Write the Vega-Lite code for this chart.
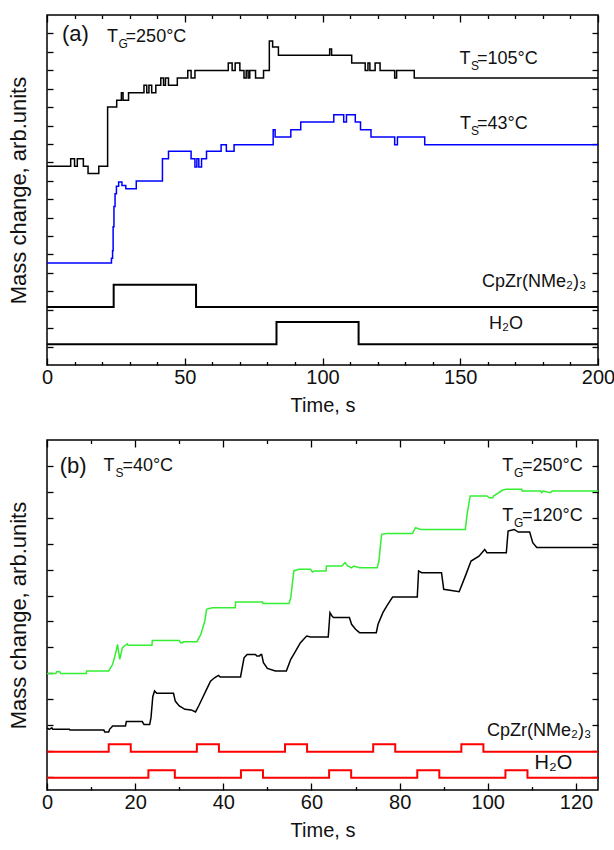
{
  "$schema": "https://vega.github.io/schema/vega-lite/v6.json",
  "padding": {"left": 6, "top": 13, "right": 0, "bottom": 5},
  "background": "white",
  "spacing": 21,
  "config": {
    "view": {"stroke": "black", "strokeWidth": 1.5},
    "font": "Liberation Sans",
    "axis": {"domain": false, "grid": false, "tickColor": "black", "tickWidth": 1.3, "labelFont": "Liberation Sans", "labelFontSize": 20, "labelColor": "#111", "titleFont": "Liberation Sans", "titleFontSize": 20, "titleFontWeight": "normal", "titleColor": "#111", "labelFlush": false, "labelOverlap": false},
    "text": {"font": "Liberation Sans", "color": "#111"}
  },
  "datasets": {
    "a_curves": [
      {"series": "Ts105", "t": 0, "v": 10.79}, {"series": "Ts105", "t": 8.6, "v": 11.2}, {"series": "Ts105", "t": 10.0, "v": 10.79}, {"series": "Ts105", "t": 11.0, "v": 11.2}, {"series": "Ts105", "t": 13.2, "v": 10.79}, {"series": "Ts105", "t": 14.9, "v": 10.39}, {"series": "Ts105", "t": 18.8, "v": 10.79}, {"series": "Ts105", "t": 22.0, "v": 14.01}, {"series": "Ts105", "t": 25.3, "v": 14.37}, {"series": "Ts105", "t": 27.0, "v": 14.78}, {"series": "Ts105", "t": 27.6, "v": 14.37}, {"series": "Ts105", "t": 29.6, "v": 14.78}, {"series": "Ts105", "t": 35.2, "v": 15.18}, {"series": "Ts105", "t": 36.2, "v": 14.78}, {"series": "Ts105", "t": 37.0, "v": 15.18}, {"series": "Ts105", "t": 38.0, "v": 14.78}, {"series": "Ts105", "t": 39.5, "v": 15.18}, {"series": "Ts105", "t": 41.3, "v": 15.58}, {"series": "Ts105", "t": 42.3, "v": 15.18}, {"series": "Ts105", "t": 43.0, "v": 15.58}, {"series": "Ts105", "t": 44.1, "v": 15.18}, {"series": "Ts105", "t": 47.3, "v": 15.58}, {"series": "Ts105", "t": 51.1, "v": 15.99}, {"series": "Ts105", "t": 52.3, "v": 15.58}, {"series": "Ts105", "t": 53.7, "v": 15.99}, {"series": "Ts105", "t": 65.8, "v": 16.4}, {"series": "Ts105", "t": 67.2, "v": 15.99}, {"series": "Ts105", "t": 68.3, "v": 16.4}, {"series": "Ts105", "t": 70.0, "v": 15.99}, {"series": "Ts105", "t": 71.5, "v": 15.58}, {"series": "Ts105", "t": 72.3, "v": 15.99}, {"series": "Ts105", "t": 73.0, "v": 15.58}, {"series": "Ts105", "t": 73.6, "v": 15.99}, {"series": "Ts105", "t": 75.7, "v": 15.58}, {"series": "Ts105", "t": 78.6, "v": 15.99}, {"series": "Ts105", "t": 80.7, "v": 17.59}, {"series": "Ts105", "t": 81.9, "v": 17.26}, {"series": "Ts105", "t": 84.0, "v": 16.81}, {"series": "Ts105", "t": 102.6, "v": 17.15}, {"series": "Ts105", "t": 103.3, "v": 16.81}, {"series": "Ts105", "t": 110.6, "v": 16.4}, {"series": "Ts105", "t": 115.5, "v": 15.99}, {"series": "Ts105", "t": 116.5, "v": 16.4}, {"series": "Ts105", "t": 117.2, "v": 15.99}, {"series": "Ts105", "t": 119.1, "v": 16.4}, {"series": "Ts105", "t": 120.9, "v": 15.99}, {"series": "Ts105", "t": 126.2, "v": 15.58}, {"series": "Ts105", "t": 126.9, "v": 15.99}, {"series": "Ts105", "t": 133.3, "v": 15.58}, {"series": "Ts105", "t": 200, "v": 15.58},
      {"series": "Ts43", "t": 0, "v": 5.54}, {"series": "Ts43", "t": 23.4, "v": 5.8}, {"series": "Ts43", "t": 23.8, "v": 6.2}, {"series": "Ts43", "t": 24.0, "v": 7.5}, {"series": "Ts43", "t": 24.3, "v": 8.6}, {"series": "Ts43", "t": 24.7, "v": 9.3}, {"series": "Ts43", "t": 25.2, "v": 9.7}, {"series": "Ts43", "t": 26.0, "v": 9.93}, {"series": "Ts43", "t": 27.2, "v": 9.75}, {"series": "Ts43", "t": 28.6, "v": 9.57}, {"series": "Ts43", "t": 32.4, "v": 9.99}, {"series": "Ts43", "t": 41.9, "v": 11.2}, {"series": "Ts43", "t": 44.1, "v": 11.6}, {"series": "Ts43", "t": 52.3, "v": 11.2}, {"series": "Ts43", "t": 53.7, "v": 10.75}, {"series": "Ts43", "t": 54.4, "v": 11.2}, {"series": "Ts43", "t": 55.1, "v": 10.75}, {"series": "Ts43", "t": 56.1, "v": 11.2}, {"series": "Ts43", "t": 57.9, "v": 11.6}, {"series": "Ts43", "t": 63.2, "v": 11.96}, {"series": "Ts43", "t": 65.1, "v": 11.6}, {"series": "Ts43", "t": 67.9, "v": 11.96}, {"series": "Ts43", "t": 82.1, "v": 12.77}, {"series": "Ts43", "t": 82.8, "v": 12.38}, {"series": "Ts43", "t": 88.5, "v": 12.77}, {"series": "Ts43", "t": 92.1, "v": 13.19}, {"series": "Ts43", "t": 104.1, "v": 13.59}, {"series": "Ts43", "t": 107.7, "v": 13.19}, {"series": "Ts43", "t": 108.7, "v": 13.59}, {"series": "Ts43", "t": 111.9, "v": 13.19}, {"series": "Ts43", "t": 113.8, "v": 12.77}, {"series": "Ts43", "t": 117.6, "v": 12.38}, {"series": "Ts43", "t": 126.2, "v": 11.96}, {"series": "Ts43", "t": 127.2, "v": 12.38}, {"series": "Ts43", "t": 137.1, "v": 11.96}, {"series": "Ts43", "t": 200, "v": 11.96}
    ],
    "a_pulses": [
      {"series": "CpZr", "t": 0, "v": 3.15}, {"series": "CpZr", "t": 24.2, "v": 4.36}, {"series": "CpZr", "t": 54.1, "v": 3.15}, {"series": "CpZr", "t": 200, "v": 3.15},
      {"series": "H2O", "t": 0, "v": 1.12}, {"series": "H2O", "t": 83.3, "v": 2.33}, {"series": "H2O", "t": 113.1, "v": 1.12}, {"series": "H2O", "t": 200, "v": 1.12}
    ],
    "a_text": [
      {"t": 5.44, "v": 17.97, "text": "(a)", "role": "big"},
      {"t": 21.78, "v": 17.81, "text": "T", "role": "main"}, {"t": 25.95, "v": 17.81, "text": "G", "role": "sub"}, {"t": 28.53, "v": 17.81, "text": "=250°C", "role": "main"},
      {"t": 149.7, "v": 16.61, "text": "T", "role": "main"}, {"t": 153.9, "v": 16.61, "text": "S", "role": "sub"}, {"t": 156.1, "v": 16.61, "text": "=105°C", "role": "main"},
      {"t": 149.9, "v": 13.08, "text": "T", "role": "main"}, {"t": 153.9, "v": 13.08, "text": "S", "role": "sub"}, {"t": 156.1, "v": 13.08, "text": "=43°C", "role": "main"},
      {"t": 157.9, "v": 4.51, "text": "CpZr(NMe₂)₃", "role": "main"},
      {"t": 160.4, "v": 2.23, "text": "H₂O", "role": "main"}
    ],
    "b_curves": [
      {"series": "Tg250", "t": 0, "v": 4.49}, {"series": "Tg250", "t": 2.0, "v": 4.49}, {"series": "Tg250", "t": 2.2, "v": 4.56}, {"series": "Tg250", "t": 2.9, "v": 4.56}, {"series": "Tg250", "t": 3.1, "v": 4.49}, {"series": "Tg250", "t": 8.9, "v": 4.49}, {"series": "Tg250", "t": 9.0, "v": 4.59}, {"series": "Tg250", "t": 14.0, "v": 4.59}, {"series": "Tg250", "t": 14.9, "v": 4.85}, {"series": "Tg250", "t": 15.6, "v": 5.3}, {"series": "Tg250", "t": 16.0, "v": 5.62}, {"series": "Tg250", "t": 16.5, "v": 5.04}, {"series": "Tg250", "t": 17.1, "v": 5.49}, {"series": "Tg250", "t": 18.2, "v": 5.64}, {"series": "Tg250", "t": 18.4, "v": 5.58}, {"series": "Tg250", "t": 23.8, "v": 5.58}, {"series": "Tg250", "t": 23.9, "v": 5.77}, {"series": "Tg250", "t": 30.0, "v": 5.77}, {"series": "Tg250", "t": 30.3, "v": 5.68}, {"series": "Tg250", "t": 30.8, "v": 5.68}, {"series": "Tg250", "t": 30.9, "v": 5.72}, {"series": "Tg250", "t": 34.0, "v": 5.72}, {"series": "Tg250", "t": 34.9, "v": 6.0}, {"series": "Tg250", "t": 35.8, "v": 6.52}, {"series": "Tg250", "t": 36.2, "v": 6.97}, {"series": "Tg250", "t": 37.5, "v": 7.03}, {"series": "Tg250", "t": 42.7, "v": 7.03}, {"series": "Tg250", "t": 42.8, "v": 7.25}, {"series": "Tg250", "t": 48.9, "v": 7.25}, {"series": "Tg250", "t": 49.0, "v": 7.19}, {"series": "Tg250", "t": 54.9, "v": 7.19}, {"series": "Tg250", "t": 55.3, "v": 7.42}, {"series": "Tg250", "t": 56.0, "v": 8.45}, {"series": "Tg250", "t": 57.1, "v": 8.51}, {"series": "Tg250", "t": 59.8, "v": 8.51}, {"series": "Tg250", "t": 60.2, "v": 8.41}, {"series": "Tg250", "t": 60.7, "v": 8.45}, {"series": "Tg250", "t": 63.3, "v": 8.45}, {"series": "Tg250", "t": 63.4, "v": 8.64}, {"series": "Tg250", "t": 66.9, "v": 8.64}, {"series": "Tg250", "t": 67.6, "v": 8.77}, {"series": "Tg250", "t": 68.2, "v": 8.64}, {"series": "Tg250", "t": 69.1, "v": 8.57}, {"series": "Tg250", "t": 69.6, "v": 8.64}, {"series": "Tg250", "t": 70.9, "v": 8.57}, {"series": "Tg250", "t": 74.9, "v": 8.57}, {"series": "Tg250", "t": 75.3, "v": 8.83}, {"series": "Tg250", "t": 75.9, "v": 9.86}, {"series": "Tg250", "t": 77.1, "v": 9.89}, {"series": "Tg250", "t": 82.9, "v": 9.89}, {"series": "Tg250", "t": 83.6, "v": 10.12}, {"series": "Tg250", "t": 84.7, "v": 10.05}, {"series": "Tg250", "t": 94.9, "v": 10.05}, {"series": "Tg250", "t": 95.3, "v": 10.63}, {"series": "Tg250", "t": 96.0, "v": 11.34}, {"series": "Tg250", "t": 99.8, "v": 11.34}, {"series": "Tg250", "t": 100.3, "v": 11.27}, {"series": "Tg250", "t": 101.1, "v": 11.27}, {"series": "Tg250", "t": 101.3, "v": 11.34}, {"series": "Tg250", "t": 103.3, "v": 11.56}, {"series": "Tg250", "t": 104.2, "v": 11.6}, {"series": "Tg250", "t": 107.7, "v": 11.6}, {"series": "Tg250", "t": 107.8, "v": 11.53}, {"series": "Tg250", "t": 112.0, "v": 11.53}, {"series": "Tg250", "t": 112.2, "v": 11.47}, {"series": "Tg250", "t": 112.6, "v": 11.53}, {"series": "Tg250", "t": 114.2, "v": 11.47}, {"series": "Tg250", "t": 114.6, "v": 11.53}, {"series": "Tg250", "t": 125, "v": 11.53},
      {"series": "Tg120", "t": 0, "v": 2.40}, {"series": "Tg120", "t": 0.5, "v": 2.34}, {"series": "Tg120", "t": 1.1, "v": 2.40}, {"series": "Tg120", "t": 1.3, "v": 2.34}, {"series": "Tg120", "t": 5.1, "v": 2.34}, {"series": "Tg120", "t": 5.2, "v": 2.31}, {"series": "Tg120", "t": 12.9, "v": 2.31}, {"series": "Tg120", "t": 13.1, "v": 2.24}, {"series": "Tg120", "t": 14.0, "v": 2.24}, {"series": "Tg120", "t": 14.2, "v": 2.34}, {"series": "Tg120", "t": 14.9, "v": 2.47}, {"series": "Tg120", "t": 17.8, "v": 2.47}, {"series": "Tg120", "t": 18.0, "v": 2.64}, {"series": "Tg120", "t": 21.6, "v": 2.64}, {"series": "Tg120", "t": 22.0, "v": 2.53}, {"series": "Tg120", "t": 23.3, "v": 2.53}, {"series": "Tg120", "t": 23.6, "v": 2.8}, {"series": "Tg120", "t": 24.0, "v": 3.6}, {"series": "Tg120", "t": 24.4, "v": 3.82}, {"series": "Tg120", "t": 24.9, "v": 3.73}, {"series": "Tg120", "t": 28.7, "v": 3.73}, {"series": "Tg120", "t": 29.1, "v": 3.43}, {"series": "Tg120", "t": 30.0, "v": 3.24}, {"series": "Tg120", "t": 31.3, "v": 3.11}, {"series": "Tg120", "t": 32.7, "v": 3.09}, {"series": "Tg120", "t": 33.7, "v": 3.01}, {"series": "Tg120", "t": 34.4, "v": 3.24}, {"series": "Tg120", "t": 35.3, "v": 3.56}, {"series": "Tg120", "t": 36.2, "v": 3.88}, {"series": "Tg120", "t": 37.1, "v": 4.2}, {"series": "Tg120", "t": 38.0, "v": 4.33}, {"series": "Tg120", "t": 38.9, "v": 4.42}, {"series": "Tg120", "t": 39.3, "v": 4.36}, {"series": "Tg120", "t": 43.9, "v": 4.36}, {"series": "Tg120", "t": 44.7, "v": 5.1}, {"series": "Tg120", "t": 45.4, "v": 5.23}, {"series": "Tg120", "t": 47.3, "v": 5.23}, {"series": "Tg120", "t": 47.6, "v": 5.17}, {"series": "Tg120", "t": 48.2, "v": 5.17}, {"series": "Tg120", "t": 48.5, "v": 5.23}, {"series": "Tg120", "t": 48.7, "v": 5.23}, {"series": "Tg120", "t": 49.1, "v": 4.91}, {"series": "Tg120", "t": 50.0, "v": 4.69}, {"series": "Tg120", "t": 51.8, "v": 4.59}, {"series": "Tg120", "t": 54.3, "v": 4.59}, {"series": "Tg120", "t": 55.3, "v": 5.04}, {"series": "Tg120", "t": 56.2, "v": 5.3}, {"series": "Tg120", "t": 57.5, "v": 5.68}, {"series": "Tg120", "t": 58.9, "v": 5.94}, {"series": "Tg120", "t": 59.8, "v": 5.9}, {"series": "Tg120", "t": 63.8, "v": 5.9}, {"series": "Tg120", "t": 64.2, "v": 6.84}, {"series": "Tg120", "t": 64.7, "v": 6.7}, {"series": "Tg120", "t": 65.0, "v": 6.65}, {"series": "Tg120", "t": 68.6, "v": 6.65}, {"series": "Tg120", "t": 69.1, "v": 6.39}, {"series": "Tg120", "t": 70.0, "v": 6.2}, {"series": "Tg120", "t": 70.9, "v": 6.07}, {"series": "Tg120", "t": 74.7, "v": 6.07}, {"series": "Tg120", "t": 75.1, "v": 6.39}, {"series": "Tg120", "t": 76.2, "v": 6.84}, {"series": "Tg120", "t": 77.1, "v": 7.1}, {"series": "Tg120", "t": 78.4, "v": 7.44}, {"series": "Tg120", "t": 84.0, "v": 7.44}, {"series": "Tg120", "t": 84.3, "v": 8.45}, {"series": "Tg120", "t": 85.0, "v": 8.38}, {"series": "Tg120", "t": 89.5, "v": 8.38}, {"series": "Tg120", "t": 90.0, "v": 7.74}, {"series": "Tg120", "t": 93.5, "v": 7.65}, {"series": "Tg120", "t": 94.9, "v": 8.25}, {"series": "Tg120", "t": 96.2, "v": 8.83}, {"series": "Tg120", "t": 98.0, "v": 9.02}, {"series": "Tg120", "t": 99.3, "v": 9.28}, {"series": "Tg120", "t": 99.8, "v": 9.15}, {"series": "Tg120", "t": 104.2, "v": 9.15}, {"series": "Tg120", "t": 104.6, "v": 9.99}, {"series": "Tg120", "t": 106.0, "v": 10.05}, {"series": "Tg120", "t": 106.9, "v": 9.95}, {"series": "Tg120", "t": 109.5, "v": 9.95}, {"series": "Tg120", "t": 110.2, "v": 9.54}, {"series": "Tg120", "t": 111.1, "v": 9.35}, {"series": "Tg120", "t": 125, "v": 9.35}
    ],
    "b_pulses": [
      {"series": "CpZr", "t": 0, "v": 1.48}, {"series": "CpZr", "t": 14, "v": 1.76}, {"series": "CpZr", "t": 19, "v": 1.48}, {"series": "CpZr", "t": 34, "v": 1.76}, {"series": "CpZr", "t": 39, "v": 1.48}, {"series": "CpZr", "t": 54, "v": 1.76}, {"series": "CpZr", "t": 59, "v": 1.48}, {"series": "CpZr", "t": 74, "v": 1.76}, {"series": "CpZr", "t": 79, "v": 1.48}, {"series": "CpZr", "t": 94, "v": 1.76}, {"series": "CpZr", "t": 99, "v": 1.48}, {"series": "CpZr", "t": 125, "v": 1.48},
      {"series": "H2O", "t": 0, "v": 0.47}, {"series": "H2O", "t": 23, "v": 0.76}, {"series": "H2O", "t": 29, "v": 0.47}, {"series": "H2O", "t": 44, "v": 0.76}, {"series": "H2O", "t": 49, "v": 0.47}, {"series": "H2O", "t": 64, "v": 0.76}, {"series": "H2O", "t": 69, "v": 0.47}, {"series": "H2O", "t": 84, "v": 0.76}, {"series": "H2O", "t": 89, "v": 0.47}, {"series": "H2O", "t": 104, "v": 0.76}, {"series": "H2O", "t": 109, "v": 0.47}, {"series": "H2O", "t": 125, "v": 0.47}
    ],
    "b_text": [
      {"t": 2.9, "v": 12.49, "text": "(b)", "role": "big"},
      {"t": 12.84, "v": 12.49, "text": "T", "role": "main"}, {"t": 15.52, "v": 12.49, "text": "S", "role": "sub"}, {"t": 17.1, "v": 12.49, "text": "=40°C", "role": "main"},
      {"t": 103.3, "v": 12.49, "text": "T", "role": "main"}, {"t": 105.97, "v": 12.49, "text": "G", "role": "sub"}, {"t": 107.76, "v": 12.49, "text": "=250°C", "role": "main"},
      {"t": 103.3, "v": 10.57, "text": "T", "role": "main"}, {"t": 105.97, "v": 10.57, "text": "G", "role": "sub"}, {"t": 107.76, "v": 10.57, "text": "=120°C", "role": "main"},
      {"t": 99.8, "v": 2.28, "text": "CpZr(NMe₂)₃", "role": "main"},
      {"t": 110.6, "v": 1.04, "text": "H₂O", "role": "h2o"}
    ]
  },
  "vconcat": [
    {
      "width": 551, "height": 350,
      "resolve": {"axis": {"x": "independent", "y": "independent"}},
      "layer": [
        {
          "data": {"name": "a_curves"},
          "mark": {"type": "line", "interpolate": "step-after", "strokeWidth": 1.5},
          "encoding": {
            "x": {"field": "t", "type": "quantitative", "scale": {"domain": [0, 200], "nice": false, "zero": false},
              "axis": {"orient": "bottom", "values": [0,10,20,30,40,50,60,70,80,90,100,110,120,130,140,150,160,170,180,190,200], "labelExpr": "datum.value % 50 === 0 ? datum.label : ''", "tickSize": {"condition": {"test": "datum.value % 50 === 0", "value": -7}, "value": -3.5}, "labelPadding": 9, "title": "Time, s", "titlePadding": 5}},
            "y": {"field": "v", "type": "quantitative", "scale": {"domain": [0, 19], "nice": false, "zero": false},
              "axis": {"orient": "left", "values": [1,2,3,4,5,6,7,8,9,10,11,12,13,14,15,16,17,18], "labels": false, "tickSize": -6, "title": "Mass change, arb.units", "titleFontSize": 22, "titlePadding": 16}},
            "color": {"field": "series", "type": "nominal", "scale": {"domain": ["Ts105", "Ts43", "Tg250", "Tg120"], "range": ["#000000", "#0000ff", "#33ee33", "#000000"]}, "legend": null}
          }
        },
        {
          "data": {"name": "a_pulses"},
          "mark": {"type": "line", "interpolate": "step-after", "strokeWidth": 2, "color": "#000000"},
          "encoding": {
            "x": {"field": "t", "type": "quantitative", "scale": {"domain": [0, 200], "nice": false, "zero": false},
              "axis": {"orient": "top", "values": [0,10,20,30,40,50,60,70,80,90,100,110,120,130,140,150,160,170,180,190,200], "labels": false, "tickSize": {"condition": {"test": "datum.value % 50 === 0", "value": -7}, "value": -3.5}, "title": null}},
            "y": {"field": "v", "type": "quantitative", "scale": {"domain": [0, 19], "nice": false, "zero": false},
              "axis": {"orient": "right", "values": [1,2,3,4,5,6,7,8,9,10,11,12,13,14,15,16,17,18], "labels": false, "tickSize": -6, "title": null}},
            "detail": {"field": "series", "type": "nominal"}
          }
        },
        {
          "data": {"name": "a_text"},
          "transform": [{"filter": "datum.role === 'main'"}],
          "mark": {"type": "text", "align": "left", "baseline": "middle", "fontSize": 18},
          "encoding": {
            "x": {"field": "t", "type": "quantitative", "axis": null},
            "y": {"field": "v", "type": "quantitative", "axis": null},
            "text": {"field": "text"}
          }
        },
        {
          "data": {"name": "a_text"},
          "transform": [{"filter": "datum.role === 'sub'"}],
          "mark": {"type": "text", "align": "left", "baseline": "middle", "fontSize": 12, "dy": 7},
          "encoding": {
            "x": {"field": "t", "type": "quantitative", "axis": null},
            "y": {"field": "v", "type": "quantitative", "axis": null},
            "text": {"field": "text"}
          }
        },
        {
          "data": {"name": "a_text"},
          "transform": [{"filter": "datum.role === 'big'"}],
          "mark": {"type": "text", "align": "left", "baseline": "middle", "fontSize": 22},
          "encoding": {
            "x": {"field": "t", "type": "quantitative", "axis": null},
            "y": {"field": "v", "type": "quantitative", "axis": null},
            "text": {"field": "text"}
          }
        }
      ]
    },
    {
      "width": 551, "height": 350,
      "resolve": {"axis": {"x": "independent", "y": "independent"}},
      "layer": [
        {
          "data": {"name": "b_curves"},
          "mark": {"type": "line", "interpolate": "linear", "strokeWidth": 1.5},
          "encoding": {
            "x": {"field": "t", "type": "quantitative", "scale": {"domain": [0, 125], "nice": false, "zero": false},
              "axis": {"orient": "bottom", "values": [0,10,20,30,40,50,60,70,80,90,100,110,120], "labelExpr": "datum.value % 20 === 0 ? datum.label : ''", "tickSize": {"condition": {"test": "datum.value % 20 === 0", "value": -7}, "value": -3.5}, "labelPadding": 9, "title": "Time, s", "titlePadding": 5}},
            "y": {"field": "v", "type": "quantitative", "scale": {"domain": [0, 13.5], "nice": false, "zero": false},
              "axis": {"orient": "left", "values": [0.5,1.5,2.5,3.5,4.5,5.5,6.5,7.5,8.5,9.5,10.5,11.5,12.5], "labels": false, "tickSize": -6, "title": "Mass change, arb.units", "titleFontSize": 22, "titlePadding": 16}},
            "color": {"field": "series", "type": "nominal", "scale": {"domain": ["Ts105", "Ts43", "Tg250", "Tg120"], "range": ["#000000", "#0000ff", "#33ee33", "#000000"]}, "legend": null}
          }
        },
        {
          "data": {"name": "b_pulses"},
          "mark": {"type": "line", "interpolate": "step-after", "strokeWidth": 2, "color": "#ff0000"},
          "encoding": {
            "x": {"field": "t", "type": "quantitative", "scale": {"domain": [0, 125], "nice": false, "zero": false},
              "axis": {"orient": "top", "values": [0,10,20,30,40,50,60,70,80,90,100,110,120], "labels": false, "tickSize": {"condition": {"test": "datum.value % 20 === 0", "value": -7}, "value": -3.5}, "title": null}},
            "y": {"field": "v", "type": "quantitative", "scale": {"domain": [0, 13.5], "nice": false, "zero": false},
              "axis": {"orient": "right", "values": [0.5,1.5,2.5,3.5,4.5,5.5,6.5,7.5,8.5,9.5,10.5,11.5,12.5], "labels": false, "tickSize": -6, "title": null}},
            "detail": {"field": "series", "type": "nominal"}
          }
        },
        {
          "data": {"name": "b_text"},
          "transform": [{"filter": "datum.role === 'main'"}],
          "mark": {"type": "text", "align": "left", "baseline": "middle", "fontSize": 18},
          "encoding": {
            "x": {"field": "t", "type": "quantitative", "axis": null},
            "y": {"field": "v", "type": "quantitative", "axis": null},
            "text": {"field": "text"}
          }
        },
        {
          "data": {"name": "b_text"},
          "transform": [{"filter": "datum.role === 'sub'"}],
          "mark": {"type": "text", "align": "left", "baseline": "middle", "fontSize": 12, "dy": 7},
          "encoding": {
            "x": {"field": "t", "type": "quantitative", "axis": null},
            "y": {"field": "v", "type": "quantitative", "axis": null},
            "text": {"field": "text"}
          }
        },
        {
          "data": {"name": "b_text"},
          "transform": [{"filter": "datum.role === 'big'"}],
          "mark": {"type": "text", "align": "left", "baseline": "middle", "fontSize": 22},
          "encoding": {
            "x": {"field": "t", "type": "quantitative", "axis": null},
            "y": {"field": "v", "type": "quantitative", "axis": null},
            "text": {"field": "text"}
          }
        },
        {
          "data": {"name": "b_text"},
          "transform": [{"filter": "datum.role === 'h2o'"}],
          "mark": {"type": "text", "align": "left", "baseline": "middle", "fontSize": 20},
          "encoding": {
            "x": {"field": "t", "type": "quantitative", "axis": null},
            "y": {"field": "v", "type": "quantitative", "axis": null},
            "text": {"field": "text"}
          }
        }
      ]
    }
  ]
}
